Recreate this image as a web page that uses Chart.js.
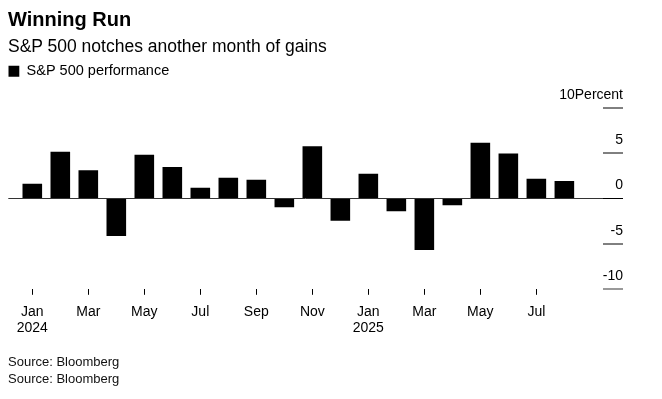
<!DOCTYPE html>
<html>
<head>
<meta charset="utf-8">
<script src="https://cdn.jsdelivr.net/npm/chart.js@4/dist/chart.umd.min.js"></script>
<style>
  html, body { margin: 0; padding: 0; background: #fff; }
  body { width: 662px; height: 399px; position: relative; overflow: hidden; font-family: "Liberation Sans", Arial, sans-serif; color: #000; }
  #wrap { position: absolute; left: 0; top: 0; width: 662px; height: 399px; }
  .t { position: absolute; left: 8px; white-space: nowrap; }
  #title { top: 7px; font-size: 20px; line-height: 24px; font-weight: bold; }
  #subtitle { top: 36px; font-size: 17.5px; line-height: 20px; }
  #source { top: 353px; font-size: 13px; line-height: 17px; color: #111; }
</style>
</head>
<body>
<div id="wrap"><canvas id="c" width="662" height="399"></canvas></div>
<div class="t" id="title">Winning Run</div>
<div class="t" id="subtitle">S&amp;P 500 notches another month of gains</div>
<div class="t" id="source">Source: Bloomberg<br>Source: Bloomberg</div>
<script>
// ---- data ----
const categories = ['2024-01','2024-02','2024-03','2024-04','2024-05','2024-06','2024-07','2024-08','2024-09','2024-10','2024-11','2024-12',
                    '2025-01','2025-02','2025-03','2025-04','2025-05','2025-06','2025-07','2025-08'];
const seriesName = 'S&P 500 performance';
const values = [1.65, 5.2, 3.15, -4.15, 4.85, 3.5, 1.2, 2.3, 2.1, -0.95, 5.8, -2.45,
                2.75, -1.4, -5.7, -0.75, 6.2, 5.0, 2.2, 1.95];
const xTickIndices = [0, 2, 4, 6, 8, 10, 12, 14, 16, 18];
const xTickLabels = [['Jan','2024'], 'Mar', 'May', 'Jul', 'Sep', 'Nov', ['Jan','2025'], 'Mar', 'May', 'Jul'];
const yTicks = [-10, -5, 0, 5, 10];
const yTickLabels = ['-10', '-5', '0', '5', '10Percent'];
const yMin = -10;
const yMax = 12.2;
const xMin = -0.857;
const xMax = 20.38;

const points = values.map((v, i) => ({ x: i, y: v }));

new Chart(document.getElementById('c'), {
  type: 'bar',
  data: {
    datasets: [{
      label: seriesName,
      data: points,
      backgroundColor: '#000',
      borderWidth: 0,
      categoryPercentage: 1.0,
      barPercentage: 0.7
    }]
  },
  options: {
    responsive: false,
    animation: false,
    devicePixelRatio: 1,
    layout: { padding: { left: 8.3, right: 39, top: 64, bottom: 54 } },
    plugins: {
      legend: {
        display: true,
        position: 'top',
        align: 'start',
        labels: {
          boxWidth: 11, boxHeight: 11, padding: 0,
          color: '#000',
          font: { family: '"Liberation Sans", Arial, sans-serif', size: 14.5 }
        }
      },
      tooltip: { enabled: false }
    },
    scales: {
      x: {
        type: 'linear',
        min: xMin, max: xMax,
        offset: false,
        border: { display: false },
        grid: { display: true, drawOnChartArea: false, drawTicks: true, tickLength: 6, tickColor: '#000', tickWidth: 1, offset: false },
        afterBuildTicks: (s) => { s.ticks = xTickIndices.map(v => ({ value: v })); },
        ticks: {
          autoSkip: false, maxRotation: 0, minRotation: 0, padding: 9,
          color: '#000',
          font: { family: '"Liberation Sans", Arial, sans-serif', size: 14, lineHeight: 1.15 },
          callback: (value, index) => xTickLabels[index]
        }
      },
      y: {
        type: 'linear',
        position: 'right',
        min: yMin, max: yMax,
        border: { display: false },
        afterBuildTicks: (s) => { s.ticks = yTicks.map(v => ({ value: v })); },
        afterFit: (s) => { s.width = 20; },
        grid: {
          drawOnChartArea: true,
          drawTicks: true,
          tickLength: 20,
          color: (ctx) => (ctx.tick && ctx.tick.value === 0) ? '#333' : 'rgba(0,0,0,0)',
          lineWidth: (ctx) => (ctx.tick && ctx.tick.value === 0) ? 1 : 0,
          tickColor: (ctx) => (ctx.tick && ctx.tick.value === -10) ? '#999' : '#000',
          tickWidth: (ctx) => (ctx.tick && ctx.tick.value === -10) ? 2 : 1
        },
        ticks: {
          mirror: true,
          crossAlign: 'near',
          labelOffset: -13,
          padding: 20,
          color: '#000',
          font: { family: '"Liberation Sans", Arial, sans-serif', size: 14 },
          callback: (value, index) => yTickLabels[yTicks.indexOf(value)]
        }
      }
    }
  }
});
</script>
</body>
</html>
